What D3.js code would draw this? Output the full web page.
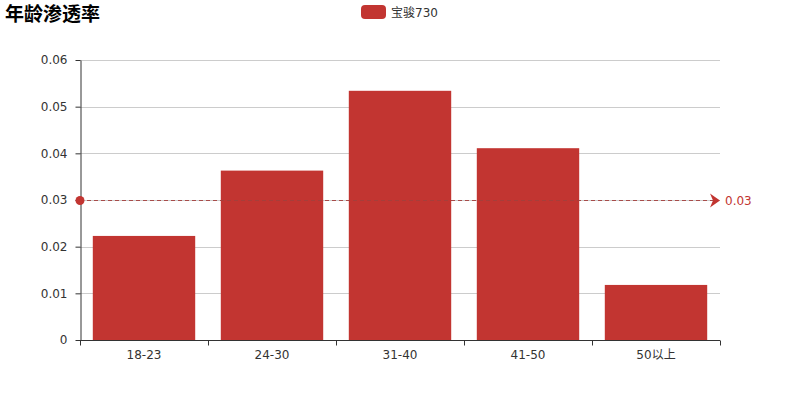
<!DOCTYPE html>
<html><head><meta charset="utf-8">
<script src="https://cdn.jsdelivr.net/npm/d3@7/dist/d3.min.js"></script>
<style>body{margin:0;background:#fff;}svg{display:block;font-family:"DejaVu Sans","Noto Sans CJK SC",sans-serif;}</style>
</head><body>
<svg id="c" width="800" height="400"></svg>
<script>
const categories = ["18-23","24-30","31-40","41-50","50以上"];
const values = [0.0223,0.0363,0.0534,0.0411,0.0118];
const yTicks = [0,0.01,0.02,0.03,0.04,0.05,0.06];
const markValue = 0.03;
const seriesName = "宝骏730";
const title = "年龄渗透率";

const color = "#c23531";
const svg = d3.select("#c");
const m = {l:80, r:80, t:60, b:60};
const W = 800, H = 400;
const x = d3.scaleBand().domain(categories).range([m.l, W-m.r]).paddingInner(0.2).paddingOuter(0.1);
const xEdge = d3.scaleLinear().domain([0, categories.length]).range([m.l, W-m.r]);
const y = d3.scaleLinear().domain([0,0.06]).range([H-m.b, m.t]);

// title
svg.append("text").attr("x",5).attr("y",21).attr("font-size",19).attr("font-weight","bold").attr("fill","#000")
  .style("font-family","'Noto Sans CJK SC',sans-serif").text(title);

// legend
svg.append("rect").attr("x",361).attr("y",5).attr("width",25).attr("height",14).attr("rx",4).attr("fill",color);
svg.append("text").attr("x",391).attr("y",16.5).attr("font-size",12).attr("fill","#333").text(seriesName);

// grid
svg.append("g").selectAll("line").data(yTicks.filter(d=>d>0)).join("line")
  .attr("x1",m.l).attr("x2",W-m.r).attr("y1",d=>Math.round(y(d))+0.5).attr("y2",d=>Math.round(y(d))+0.5)
  .attr("stroke","#ccc").attr("stroke-width",1);

// bars
svg.append("g").selectAll("rect").data(values).join("rect")
  .attr("x",(d,i)=>x(categories[i])).attr("width",x.bandwidth())
  .attr("y",d=>y(d)).attr("height",d=>y(0)-y(d)).attr("fill",color);

// y axis
const ya = svg.append("g").attr("transform",`translate(${m.l+0.5},0)`)
  .call(d3.axisLeft(y).tickValues(yTicks).tickFormat(d=>d===0?"0":d3.format(".2f")(d)).tickSize(5).tickSizeOuter(0));
ya.select(".domain").attr("stroke","#333");
ya.selectAll(".tick line").attr("stroke","#333");
ya.selectAll("text").attr("font-size",12).attr("fill","#333").attr("x",-13).style("font-family","'DejaVu Sans',sans-serif");

// x axis
const xa = svg.append("g").attr("transform",`translate(0,${H-m.b+0.5})`);
xa.append("line").attr("x1",m.l).attr("x2",W-m.r).attr("stroke","#333");
xa.selectAll(".tk").data(d3.range(categories.length+1)).join("line").attr("class","tk")
  .attr("x1",d=>Math.round(xEdge(d))+0.5).attr("x2",d=>Math.round(xEdge(d))+0.5).attr("y1",0).attr("y2",5).attr("stroke","#333");
xa.selectAll("text").data(categories).join("text")
  .attr("x",d=>x(d)+x.bandwidth()/2).attr("y",18).attr("text-anchor","middle").attr("font-size",12).attr("fill","#333").text(d=>d);

// mark line
const my = Math.round(y(markValue))+0.5;
svg.append("line").attr("x1",m.l).attr("x2",W-m.r-6).attr("y1",my).attr("y2",my)
  .attr("stroke","#a33f3c").attr("stroke-width",1).attr("stroke-dasharray","4,3").attr("opacity",0.9);
svg.append("circle").attr("cx",m.l).attr("cy",my).attr("r",4.5).attr("fill",color);
svg.append("path").attr("d",`M${W-m.r-10},${my-7} L${W-m.r},${my} L${W-m.r-10},${my+7} L${W-m.r-7},${my} Z`).attr("fill",color);
svg.append("text").attr("x",W-m.r+5).attr("y",my+4).attr("font-size",12).attr("fill",color).text(d3.format(".2f")(markValue));
</script>
</body></html>
